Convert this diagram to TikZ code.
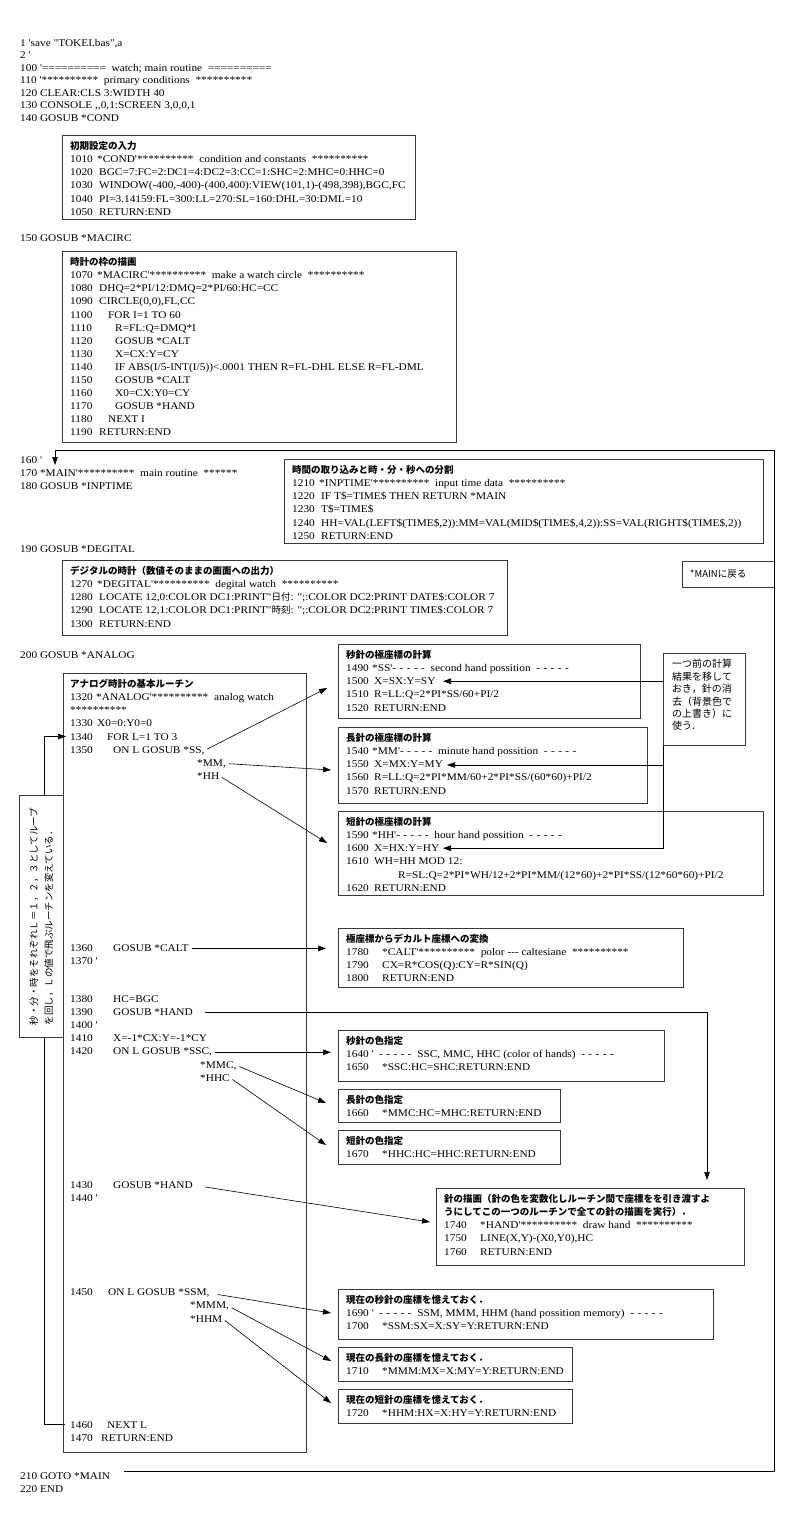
\documentclass[tikz,border=0pt]{standalone}
\usepackage{fontspec}
\newfontfamily\codef{Liberation Serif}[FakeStretch=1.1]
\newfontfamily\cjk{Noto Sans CJK JP}
\usetikzlibrary{arrows.meta}
\newcommand\cf{\fontsize{10.3}{13.1}\selectfont\codef}
\newcommand\jttl[1]{{\fontsize{9.5}{13.1}\selectfont\cjk\bfseries #1}}
\newcommand\jpn[1]{{\fontsize{9.5}{13.1}\selectfont\cjk #1}}
\newcommand\cln[3]{\makebox[#1pt][l]{#2}#3}
\newcommand\dsh{-\hspace{3.4pt}-\hspace{3.4pt}-\hspace{3.4pt}-\hspace{3.4pt}-}
\begin{document}
\begin{tikzpicture}[x=1pt,y=-1pt,
 box/.style={draw=black!78,line width=0.95pt,fill=white,anchor=north west,inner sep=0pt},
 blk/.style={anchor=north west,inner sep=0pt,align=left,font=\cf},
 txt/.style={anchor=base west,inner sep=0pt,font=\cf},
 conn/.style={line width=0.6pt},
 arr/.style={line width=0.6pt,shorten <=3pt,-{Triangle[length=8pt,width=5.5pt]}},
 ]
\fill[white] (0,0) rectangle (794,1533);
\useasboundingbox (0,0) rectangle (794,1533);

% ---------------- main routine text
\node[txt] (t1) at (20,46.5) {1 'save "TOKEI.bas",a};
\node[txt] (t2) at (20,59) {2 '};
\node[txt] (t100) at (20,71.5) {100 '========== \ watch; main routine \ ==========};
\node[txt] (t110) at (20,84) {110 '********** \ primary conditions \ **********};
\node[txt] (t120) at (20,96.5) {120 CLEAR:CLS 3:WIDTH 40};
\node[txt] (t130) at (20,109) {130 CONSOLE ,,0,1:SCREEN 3,0,0,1};
\node[txt] (t140) at (20,121.5) {140 GOSUB *COND};
\node[txt] (t150) at (20,241.5) {150 GOSUB *MACIRC};
\node[txt] (t160) at (20,463.5) {160 '};
\node[txt] (t170) at (20,476.5) {170 *MAIN'********** \ main routine \ ******};
\node[txt] (t180) at (20,489.5) {180 GOSUB *INPTIME};
\node[txt] (t190) at (20,552.5) {190 GOSUB *DEGITAL};
\node[txt] (t200) at (20,658.5) {200 GOSUB *ANALOG};
\node[txt] (t210) at (20,1479.5) {210 GOTO *MAIN};
\node[txt] (t220) at (20,1492.8) {220 END};

% ---------------- boxes
\node[box,minimum width=353pt,minimum height=84pt] (cond) at (62,135) {};
\node[box,minimum width=394pt,minimum height=191pt] (macirc) at (62,251) {};
\node[box,minimum width=479pt,minimum height=84pt] (inptime) at (284,459) {};
\node[box,minimum width=445pt,minimum height=75pt] (degital) at (62,560) {};
\node[box,minimum width=92pt,minimum height=26pt] (mainret) at (682,561) {};
\node[box,minimum width=243pt,minimum height=779pt] (analog) at (63,673) {};
\node[box,minimum width=302pt,minimum height=74pt] (ssb) at (338,644) {};
\node[box,minimum width=309pt,minimum height=76pt] (mmb) at (338,727) {};
\node[box,minimum width=425pt,minimum height=84pt] (hhb) at (338,811) {};
\node[box,minimum width=82pt,minimum height=92pt] (note) at (663,653) {};
\node[box,minimum width=345pt,minimum height=59pt] (calt) at (338,928) {};
\node[box,minimum width=326pt,minimum height=51pt] (ssc) at (338,1030) {};
\node[box,minimum width=222pt,minimum height=33pt] (mmc) at (338,1089) {};
\node[box,minimum width=222pt,minimum height=34pt] (hhc) at (338,1130) {};
\node[box,minimum width=308pt,minimum height=77pt] (hand) at (436,1188) {};
\node[box,minimum width=375pt,minimum height=50pt] (ssm) at (338,1289) {};
\node[box,minimum width=234pt,minimum height=34pt] (mmm) at (338,1347) {};
\node[box,minimum width=234pt,minimum height=34pt] (hhm) at (338,1389) {};

% ---------------- box texts
\node[blk] (condtxt) at (70,140.3) {\strut\jttl{初期設定の入力}\\
\cln{27}{1010}{*COND'********** \ condition and constants \ **********}\\
\cln{29}{1020}{BGC=7:FC=2:DC1=4:DC2=3:CC=1:SHC=2:MHC=0:HHC=0}\\
\cln{29}{1030}{WINDOW(-400,-400)-(400,400):VIEW(101,1)-(498,398),BGC,FC}\\
\cln{29}{1040}{PI=3.14159:FL=300:LL=270:SL=160:DHL=30:DML=10}\\
\cln{29}{1050}{RETURN:END}};

\node[blk] (macirctxt) at (70,256.3) {\strut\jttl{時計の枠の描画}\\
\cln{27}{1070}{*MACIRC'********** \ make a watch circle \ **********}\\
\cln{29}{1080}{DHQ=2*PI/12:DMQ=2*PI/60:HC=CC}\\
\cln{29}{1090}{CIRCLE(0,0),FL,CC}\\
\cln{38}{1100}{FOR I=1 TO 60}\\
\cln{45}{1110}{R=FL:Q=DMQ*I}\\
\cln{45}{1120}{GOSUB *CALT}\\
\cln{45}{1130}{X=CX:Y=CY}\\
\cln{45}{1140}{IF ABS(I/5-INT(I/5))<.0001 THEN R=FL-DHL ELSE R=FL-DML}\\
\cln{45}{1150}{GOSUB *CALT}\\
\cln{45}{1160}{X0=CX:Y0=CY}\\
\cln{45}{1170}{GOSUB *HAND}\\
\cln{38}{1180}{NEXT I}\\
\cln{29}{1190}{RETURN:END}};

\node[blk] (inptimetxt) at (292,464.3) {\strut\jttl{時間の取り込みと時・分・秒への分割}\\
\cln{27}{1210}{*INPTIME'********** \ input time data \ **********}\\
\cln{29}{1220}{IF T\$=TIME\$ THEN RETURN *MAIN}\\
\cln{29}{1230}{T\$=TIME\$}\\
\cln{29}{1240}{HH=VAL(LEFT\$(TIME\$,2)):MM=VAL(MID\$(TIME\$,4,2)):SS=VAL(RIGHT\$(TIME\$,2))}\\
\cln{29}{1250}{RETURN:END}};

\node[blk] (degitaltxt) at (70,565.3) {\strut\jttl{デジタルの時計（数値そのままの画面への出力）}\\
\cln{27}{1270}{*DEGITAL'********** \ degital watch \ **********}\\
\cln{29}{1280}{LOCATE 12,0:COLOR DC1:PRINT"\jpn{日付}: ";:COLOR DC2:PRINT DATE\$:COLOR 7}\\
\cln{29}{1290}{LOCATE 12,1:COLOR DC1:PRINT"\jpn{時刻}: ";:COLOR DC2:PRINT TIME\$:COLOR 7}\\
\cln{29}{1300}{RETURN:END}};

\node[anchor=base west,inner sep=0pt,font=\fontsize{9.5}{12}\selectfont\cjk] (mainrettxt) at (690,577) {*MAINに戻る};

\node[blk] (ssbtxt) at (346,649.3) {\strut\jttl{秒針の極座標の計算}\\
\cln{26}{1490}{*SS'\dsh\ \ second hand possition \ \dsh}\\
\cln{28}{1500}{X=SX:Y=SY}\\
\cln{28}{1510}{R=LL:Q=2*PI*SS/60+PI/2}\\
\cln{28}{1520}{RETURN:END}};

\node[blk] (mmbtxt) at (346,732.3) {\strut\jttl{長針の極座標の計算}\\
\cln{26}{1540}{*MM'\dsh\ \ minute hand possition \ \dsh}\\
\cln{28}{1550}{X=MX:Y=MY}\\
\cln{28}{1560}{R=LL:Q=2*PI*MM/60+2*PI*SS/(60*60)+PI/2}\\
\cln{28}{1570}{RETURN:END}};

\node[blk] (hhbtxt) at (346,816.3) {\strut\jttl{短針の極座標の計算}\\
\cln{26}{1590}{*HH'\dsh\ \ hour hand possition \ \dsh}\\
\cln{28}{1600}{X=HX:Y=HY}\\
\cln{28}{1610}{WH=HH MOD 12:}\\
\hspace*{52pt}R=SL:Q=2*PI*WH/12+2*PI*MM/(12*60)+2*PI*SS/(12*60*60)+PI/2\\
\cln{28}{1620}{RETURN:END}};

\node[anchor=north west,inner sep=0pt,align=left,font=\fontsize{10}{12.4}\selectfont\cjk] (notetxt) at (672,659) {\strut 一つ前の計算\\結果を移して\\おき，針の消\\去（背景色で\\の上書き）に\\使う．};

\node[blk] (calttxt) at (346,933.3) {\strut\jttl{極座標からデカルト座標への変換}\\
\cln{36}{1780}{*CALT'********** \ polor --- caltesiane \ **********}\\
\cln{36}{1790}{CX=R*COS(Q):CY=R*SIN(Q)}\\
\cln{36}{1800}{RETURN:END}};

\node[blk] (ssctxt) at (346,1035.3) {\strut\jttl{秒針の色指定}\\
\makebox[33pt][l]{1640 '}\dsh\ \ SSC, MMC, HHC (color of hands)\ \ \dsh\\
\cln{36}{1650}{*SSC:HC=SHC:RETURN:END}};

\node[blk] (mmctxt) at (346,1094.3) {\strut\jttl{長針の色指定}\\
\cln{36}{1660}{*MMC:HC=MHC:RETURN:END}};

\node[blk] (hhctxt) at (346,1135.3) {\strut\jttl{短針の色指定}\\
\cln{36}{1670}{*HHC:HC=HHC:RETURN:END}};

\node[blk] (handtxt) at (444,1193.3) {\strut\jttl{針の描画（針の色を変数化しルーチン間で座標をを引き渡すよ}\\
\jttl{うにしてこの一つのルーチンで全ての針の描画を実行）．}\\
\cln{36}{1740}{*HAND'********** \ draw hand \ **********}\\
\cln{36}{1750}{LINE(X,Y)-(X0,Y0),HC}\\
\cln{36}{1760}{RETURN:END}};

\node[blk] (ssmtxt) at (346,1294.3) {\strut\jttl{現在の秒針の座標を憶えておく．}\\
\makebox[33pt][l]{1690 '}\dsh\ \ SSM, MMM, HHM (hand possition memory)\ \ \dsh\\
\cln{36}{1700}{*SSM:SX=X:SY=Y:RETURN:END}};

\node[blk] (mmmtxt) at (346,1352.3) {\strut\jttl{現在の長針の座標を憶えておく．}\\
\cln{36}{1710}{*MMM:MX=X:MY=Y:RETURN:END}};

\node[blk] (hhmtxt) at (346,1394.3) {\strut\jttl{現在の短針の座標を憶えておく．}\\
\cln{36}{1720}{*HHM:HX=X:HY=Y:RETURN:END}};

% ---------------- analog routine
\node[blk] (anA) at (70,678.3) {\strut\jttl{アナログ時計の基本ルーチン}\\
\cln{26}{1320}{*ANALOG'********** \ analog watch}\\
**********\\
\cln{27}{1330}{X0=0:Y0=0}\\
\cln{37}{1340}{FOR L=1 TO 3}};
\node[txt] (a1350) at (70,753) {\cln{43}{1350}{ON L GOSUB *SS,}};
\node[txt] (amm) at (197,766.1) {*MM,};
\node[txt] (ahh) at (197,779.2) {*HH};
\node[txt] (a1360) at (70,951.8) {\cln{43}{1360}{GOSUB *CALT}};
\node[txt] (a1370) at (70,964.9) {1370 '};
\node[txt] (a1380) at (70,1002.5) {\cln{43}{1380}{HC=BGC}};
\node[txt] (a1390) at (70,1015.6) {\cln{43}{1390}{GOSUB *HAND}};
\node[txt] (a1400) at (70,1028.7) {1400 '};
\node[txt] (a1410) at (70,1041.8) {\cln{43}{1410}{X=-1*CX:Y=-1*CY}};
\node[txt] (a1420) at (70,1054.9) {\cln{43}{1420}{ON L GOSUB *SSC,}};
\node[txt] (ammc) at (200,1068) {*MMC,};
\node[txt] (ahhc) at (200,1081.1) {*HHC};
\node[txt] (a1430) at (70,1188.5) {\cln{43}{1430}{GOSUB *HAND}};
\node[txt] (a1440) at (70,1201.6) {1440 '};
\node[txt] (a1450) at (70,1295.8) {\cln{38}{1450}{ON L GOSUB *SSM,}};
\node[txt] (ammm) at (190,1308.9) {*MMM,};
\node[txt] (ahhm) at (190,1322) {*HHM};
\node[txt] (a1460) at (70,1428.5) {\cln{37}{1460}{NEXT L}};
\node[txt] (a1470) at (70,1441.6) {\cln{31}{1470}{RETURN:END}};

% ---------------- arrow end points
\coordinate (pSS) at (327,688);
\coordinate (pMM) at (331,770);
\coordinate (pHH) at (327,843);
\coordinate (xCALT) at (326,0);
\coordinate (xSSC) at (331,0);
\coordinate (pMMC) at (326,1103);
\coordinate (pHHC) at (326,1145);
\coordinate (pHAND) at (707,1180);
\coordinate (pH2) at (430,1222);
\coordinate (pSSM) at (331,1313);
\coordinate (pMMM) at (331,1361);
\coordinate (pHHM) at (331,1403);
\coordinate (pN1) at (443,681.2);
\coordinate (pN2) at (447,765);
\coordinate (pN3) at (443,848.2);
\coordinate (lpS) at (65,1424);
\coordinate (lpX) at (44,1424);
\coordinate (lpE) at (66,736.5);
\coordinate (gS) at (124,1471.7);
\coordinate (gC1) at (774,1471.7);
\coordinate (gC2) at (774,450);
\coordinate (gC3) at (55,450);
\coordinate (gE) at (55,465);

% ---------------- connectors
\draw[arr] (a1350.east) -- (pSS);
\draw[arr] (amm.east) -- (pMM);
\draw[arr] (ahh.east) -- (pHH);
\draw[arr] (a1360.east) -- (a1360.east -| xCALT);
\draw[arr] (a1420.east) -- (a1420.east -| xSSC);
\draw[arr] (ammc.east) -- (pMMC);
\draw[arr] (ahhc.east) -- (pHHC);
\draw[arr,shorten <=12pt] (a1390.east) -| (pHAND);
\draw[arr,shorten <=12pt] (a1430.east) -- (pH2);
\draw[arr,shorten <=8pt] (a1450.east) -- (pSSM);
\draw[arr] (ammm.east) -- (pMMM);
\draw[arr] (ahhm.east) -- (pHHM);
\draw[arr,shorten <=0pt] (note.west |- pN1) -- (pN1);
\draw[arr,shorten <=0pt] (note.south west) |- (pN3);
\draw[arr,shorten <=0pt] (note.south west |- pN2) -- (pN2);
\draw[arr,shorten <=0pt] (lpS) -- (lpX) |- (lpE);
\draw[arr,shorten <=0pt] (gS) -- (gC1) -- (gC2) -- (gC3) -- (gE);

% ---------------- left note (vertical text)
\node[box,minimum width=44pt,minimum height=242pt] (lnote) at (19,795) {};
\node[rotate=90,align=left,inner sep=0pt,font=\fontsize{9.5}{15}\selectfont\cjk] (lnotetxt) at (lnote.center) {秒・分・時をそれぞれＬ＝１，２，３としてループ\\を回し，Ｌの値で飛ぶルーチンを変えている．};
\end{tikzpicture}
\end{document}
